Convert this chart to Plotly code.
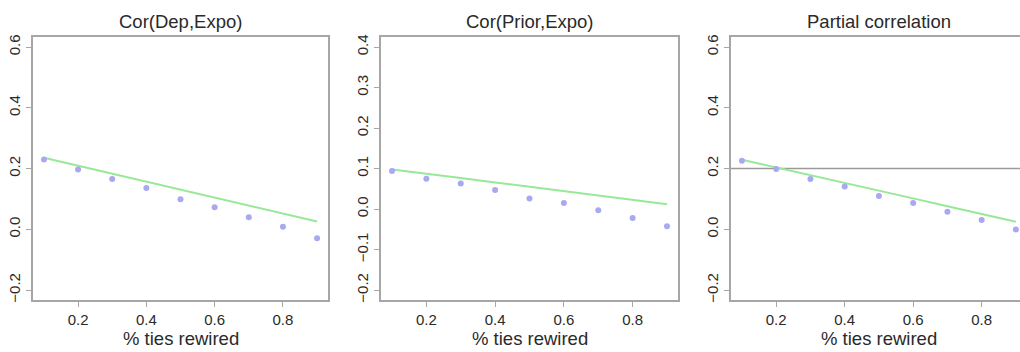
import plotly.graph_objects as go

# ---------------- data ----------------
x_rewired = [0.1, 0.2, 0.3, 0.4, 0.5, 0.6, 0.7, 0.8, 0.9]

dep_points = [0.230, 0.197, 0.166, 0.136, 0.099, 0.073, 0.040, 0.009, -0.029]
dep_line = [0.236, 0.210, 0.184, 0.157, 0.131, 0.105, 0.079, 0.052, 0.026]

prior_points = [0.094, 0.075, 0.063, 0.047, 0.026, 0.015, -0.003, -0.022, -0.042]
prior_line = [0.098, 0.088, 0.077, 0.066, 0.055, 0.044, 0.033, 0.022, 0.012]

partial_points = [0.226, 0.199, 0.166, 0.141, 0.110, 0.087, 0.058, 0.031, 0.000]
partial_line = [0.229, 0.204, 0.178, 0.153, 0.127, 0.102, 0.076, 0.051, 0.025]
partial_ref = 0.2

titles = ["Cor(Dep,Expo)", "Cor(Prior,Expo)", "Partial correlation"]
x_label = "% ties rewired"
x_ticks = [0.2, 0.4, 0.6, 0.8]
y_ticks_a = [-0.2, 0.0, 0.2, 0.4, 0.6]
y_ticks_b = [-0.2, -0.1, 0.0, 0.1, 0.2, 0.3, 0.4]

# ---------------- style ----------------
W, H = 1020, 352
POINT_COLOR = "#a9a9f2"
LINE_COLOR = "#98e898"
AXIS_COLOR = "#a6a6a6"
TEXT_COLOR = "#2a2a2a"
FONT = "Liberation Sans, Arial, Helvetica, sans-serif"

panels_px = [(33, 328), (381, 678), (731, 1020)]
y_top_px, y_bot_px = 35, 302
ydom = [(H - y_bot_px) / H, (H - y_top_px) / H]

fig = go.Figure()

series = [
    (dep_points, dep_line),
    (prior_points, prior_line),
    (partial_points, partial_line),
]

for i, (pts, ln) in enumerate(series):
    xa = "x" if i == 0 else f"x{i+1}"
    ya = "y" if i == 0 else f"y{i+1}"
    fig.add_trace(go.Scatter(
        x=x_rewired, y=ln, mode="lines", xaxis=xa, yaxis=ya,
        line=dict(color=LINE_COLOR, width=2), showlegend=False,
        hoverinfo="skip"))
    fig.add_trace(go.Scatter(
        x=x_rewired, y=pts, mode="markers", xaxis=xa, yaxis=ya,
        marker=dict(color=POINT_COLOR, size=6, line=dict(width=0)),
        showlegend=False))

x_ranges = [[0.068, 0.932], [0.068, 0.932], [0.068, 0.912]]
y_ranges = [[-0.232, 0.632], [-0.224, 0.424], [-0.232, 0.632]]
y_tickvals = [y_ticks_a, y_ticks_b, y_ticks_a]

layout = dict(
    width=W, height=H,
    margin=dict(l=0, r=0, t=0, b=0),
    paper_bgcolor="white", plot_bgcolor="white",
    font=dict(family=FONT, color=TEXT_COLOR, size=15),
    showlegend=False,
)

annotations = []
for i in range(3):
    sfx = "" if i == 0 else str(i + 1)
    x0, x1 = panels_px[i]
    layout[f"xaxis{sfx}"] = dict(
        domain=[x0 / W, x1 / W], range=x_ranges[i], anchor=f"y{sfx}",
        tickvals=x_ticks, tickformat=".1f",
        showline=True, linecolor=AXIS_COLOR, linewidth=1.5,
        mirror=True, ticks="outside", ticklen=5, tickcolor=AXIS_COLOR,
        showgrid=False, zeroline=False,
        tickfont=dict(size=15, color=TEXT_COLOR),
    )
    layout[f"yaxis{sfx}"] = dict(
        domain=ydom, range=y_ranges[i], anchor=f"x{sfx}",
        tickvals=y_tickvals[i], tickformat=".1f", tickangle=-90,
        showline=True, linecolor=AXIS_COLOR, linewidth=1.5,
        mirror=(i < 2), ticks="outside", ticklen=5, tickcolor=AXIS_COLOR,
        showgrid=False, zeroline=False,
        tickfont=dict(size=15, color=TEXT_COLOR),
    )
    cx = ((x0 + x1) / 2) / W if i < 2 else ((731 + 1027) / 2) / W
    annotations.append(dict(
        text=titles[i], x=cx, y=(H - 19) / H, xref="paper", yref="paper",
        xanchor="center", yanchor="middle", showarrow=False,
        font=dict(size=18.5, color=TEXT_COLOR, family=FONT)))
    annotations.append(dict(
        text=x_label, x=cx, y=(H - 341) / H, xref="paper", yref="paper",
        xanchor="center", yanchor="middle", showarrow=False,
        font=dict(size=18.5, color=TEXT_COLOR, family=FONT)))

layout["annotations"] = annotations
layout["shapes"] = [dict(
    type="line", xref="x3 domain", yref="y3", x0=0, x1=1,
    y0=partial_ref, y1=partial_ref,
    line=dict(color="#9a9a9a", width=1.5), layer="below")]

fig.update_layout(**layout)
fig.write_html(
    "out.html",
    config={"displayModeBar": False},
    post_script="document.body.style.margin='0';document.body.style.padding='0';"
                "document.documentElement.style.margin='0';"
                "document.body.style.overflow='hidden';",
)
